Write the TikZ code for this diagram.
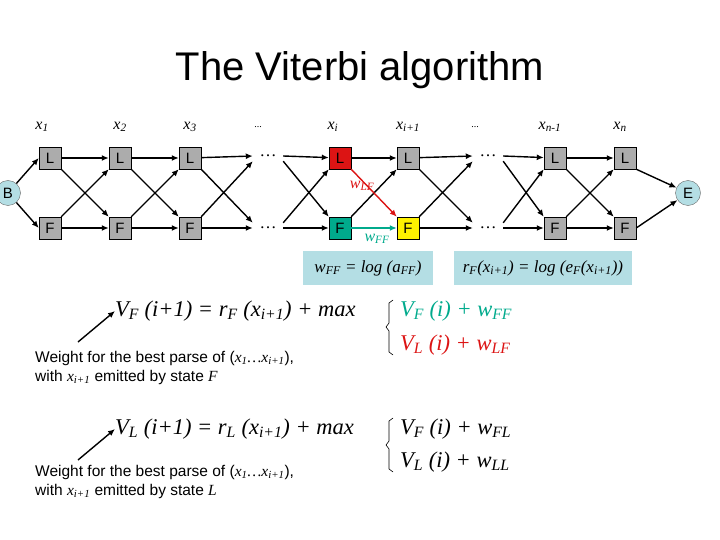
\documentclass[tikz,border=0pt]{standalone}
\usepackage{fontspec}
\setmainfont{Liberation Serif}
\setsansfont{Liberation Sans}
\usetikzlibrary{arrows.meta}
\newcommand{\su}[1]{\textsubscript{\textit{#1}}}
\definecolor{tealc}{RGB}{0,170,140}
\definecolor{redc}{RGB}{220,20,20}
\definecolor{boxb}{RGB}{180,222,228}
\tikzset{
 st/.style={draw=black,fill=gray!65,minimum size=22pt,inner sep=0pt,font=\sffamily\fontsize{15}{15}\selectfont},
 ce/.style={draw=black!60,fill=boxb,circle,minimum size=25pt,inner sep=0pt,font=\sffamily\fontsize{15}{15}\selectfont},
 dt/.style={inner sep=0pt,minimum width=30pt,minimum height=10pt,font=\fontsize{17}{17}\selectfont},
 lab/.style={font=\fontsize{16}{16}\selectfont\itshape},
 ar/.style={-{Latex[length=7pt,width=6pt]},line width=1.4pt},
 eq/.style={font=\fontsize{22.5}{25}\selectfont\itshape,anchor=west,inner sep=0pt},
 wt/.style={font=\sffamily\fontsize{15.5}{19}\selectfont,anchor=west,inner sep=0pt,align=left},
}
\begin{document}
\begin{tikzpicture}[x=1pt,y=-1pt]
\useasboundingbox (0,0) rectangle (720,540);
\node[font=\sffamily\fontsize{40}{44}\selectfont] (title) at (360,70) {The Viterbi algorithm};
% labels
\foreach \x/\t/\n in {42/{x\su{1}}/a,120/{x\su{2}}/b,190/{x\su{3}}/c,258/{\upshape\fontsize{10}{10}\selectfont...}/d,333/{x\su{i}}/e,408/{x\su{i+1}}/f,475/{\upshape\fontsize{10}{10}\selectfont...}/g,550/{x\su{n-1}}/h,620/{x\su{n}}/k}
  \node[lab] (t\n) at (\x,127) {\t};
% states
\node[st] (L1) at (50,158) {L};  \node[st] (F1) at (50,228) {F};
\node[st] (L2) at (120,158) {L}; \node[st] (F2) at (120,228) {F};
\node[st] (L3) at (190,158) {L}; \node[st] (F3) at (190,228) {F};
\node[dt] (D1L) at (268,156) {\dots}; \node[dt] (D1F) at (268,228) {\dots};
\node[st,fill=redc] (L4) at (340,158) {L}; \node[st,fill=tealc] (F4) at (340,228) {F};
\node[st] (L5) at (408,158) {L}; \node[st,fill=yellow] (F5) at (408,228) {F};
\node[dt] (D2L) at (488,156) {\dots}; \node[dt] (D2F) at (488,228) {\dots};
\node[st] (L6) at (555,158) {L}; \node[st] (F6) at (555,228) {F};
\node[st] (L7) at (625,158) {L}; \node[st] (F7) at (625,228) {F};
\node[ce] (B) at (8,193) {B};
\node[ce] (E) at (688,193) {E};
% edges
\draw[ar] (B) -- (L1.west); \draw[ar] (B) -- (F1.west);
\draw[ar] (L7.south east) -- (E); \draw[ar] (F7.east) -- (E);
\foreach \a/\b in {1/2,2/3,6/7} {
  \draw[ar] (L\a) -- (L\b); \draw[ar] (F\a) -- (F\b);
  \draw[ar] (L\a.south east) -- (F\b.north west); \draw[ar] (F\a.north east) -- (L\b.south west);}
\foreach \a/\b in {3/D1,5/D2} {
  \draw[ar] (L\a) -- (\b L.west); \draw[ar] (F\a) -- (\b F.west);
  \draw[ar] (L\a.south east) -- (\b F.north west); \draw[ar] (F\a.north east) -- (\b L.south west);}
\foreach \a/\b in {D1/4,D2/6} {
  \draw[ar] (\a L.east) -- (L\b); \draw[ar] (\a F.east) -- (F\b);
  \draw[ar] (\a L.south east) -- (F\b.north west); \draw[ar] (\a F.north east) -- (L\b.south west);}
\draw[ar] (L4) -- (L5);
\draw[ar] (F4.north east) -- (L5.south west);
\draw[ar,redc] (L4.south east) -- (F5.north west);
\draw[ar,tealc] (F4) -- (F5);
\node[lab,text=redc] (wlf) at (362,186) {w\su{LF}};
\node[lab,text=tealc] (wff) at (377,239) {w\su{FF}};
% blue boxes
\node[fill=boxb,minimum width=130pt,minimum height=34pt,font=\fontsize{17}{17}\selectfont\itshape] (bx1) at (368,268) {w\su{FF} = log (a\su{FF})};
\node[fill=boxb,minimum width=178pt,minimum height=34pt,font=\fontsize{17}{17}\selectfont\itshape] (bx2) at (543,268) {r\su{F}(x\su{i+1}) = log (e\su{F}(x\su{i+1}))};
% equations
\node[eq] (e1) at (115,311) {V\su{F} (i+1) = r\su{F} (x\su{i+1}) + max};
\node[eq,text=tealc] (e1a) at (400,311) {V\su{F} (i) + w\su{FF}};
\node[eq,text=redc] (e1b) at (400,345) {V\su{L} (i) + w\su{LF}};
\draw[line width=0.6pt] (393,300) -- (389,303) -- (389,323) -- (386,327) -- (389,331) -- (389,352) -- (393,355);
\coordinate (s1) at (78,342);
\draw[ar] (s1) -- (e1.west);
\node[wt] (w1) at (35,368) {Weight for the best parse of (\textrm{\textit{x\su{1}…x\su{i+1}}}),\\with \textrm{\textit{x\su{i+1}}} emitted by state \textrm{\textit{F}}};
\node[eq] (e2) at (115,429) {V\su{L} (i+1) = r\su{L} (x\su{i+1}) + max};
\node[eq] (e2a) at (400,429) {V\su{F} (i) + w\su{FL}};
\node[eq] (e2b) at (400,462) {V\su{L} (i) + w\su{LL}};
\draw[line width=0.6pt] (393,418) -- (389,421) -- (389,441) -- (386,445) -- (389,449) -- (389,469) -- (393,472);
\coordinate (s2) at (78,460);
\draw[ar] (s2) -- (e2.west);
\node[wt] (w2) at (35,482) {Weight for the best parse of (\textrm{\textit{x\su{1}…x\su{i+1}}}),\\with \textrm{\textit{x\su{i+1}}} emitted by state \textrm{\textit{L}}};
\end{tikzpicture}
\end{document}
